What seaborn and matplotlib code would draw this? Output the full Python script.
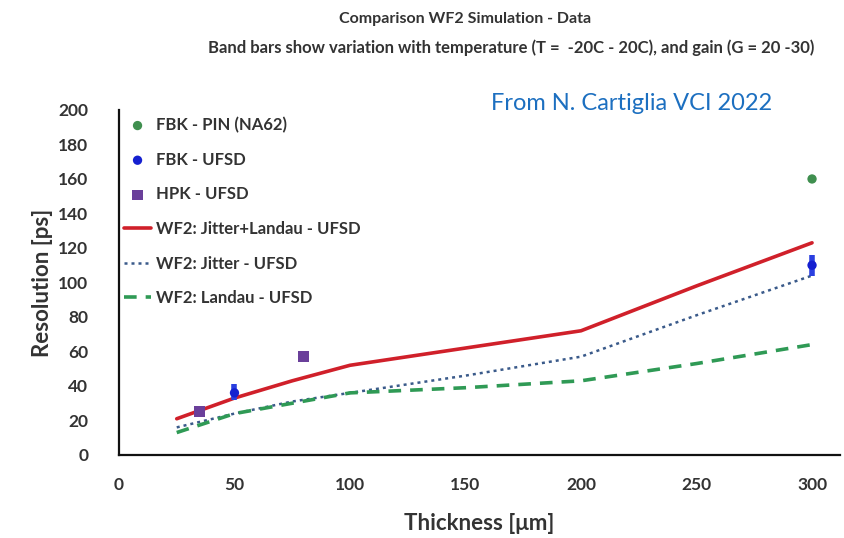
import numpy as np
import pandas as pd
import matplotlib
matplotlib.use("Agg")
import matplotlib.pyplot as plt
import seaborn as sns

# Simulated curves (thickness in um -> resolution in ps)
sim_thickness = [25, 50, 75, 100, 150, 200, 250, 300]
jitter_landau = [21, 33, 43, 52, 62, 72, 98, 123]
jitter_only = [16, 24, 31, 36, 46, 57, 81, 104]
landau_only = [13, 24, 30, 36, 39, 43, 53, 64]

# Measurements
pin_thickness = [300]
pin_resolution = [160]
fbk_thickness = [50, 300]
fbk_resolution = [36, 110]
fbk_low = [32, 104]
fbk_high = [41, 116]
hpk_thickness = [35, 80]
hpk_resolution = [25, 57]

x_ticks = [0, 50, 100, 150, 200, 250, 300]
y_ticks = [0, 20, 40, 60, 80, 100, 120, 140, 160, 180, 200]

sns.set_theme(style="white")
plt.rcParams["font.family"] = ["Lato", "DejaVu Sans"]

fig = plt.figure(figsize=(8.45, 5.38), dpi=100)
ax = fig.add_axes([0.1408, 0.1543, 0.853, 0.6413])

sim = pd.DataFrame({
    "Thickness": sim_thickness * 3,
    "Resolution": jitter_landau + jitter_only + landau_only,
    "Model": (["WF2: Jitter+Landau - UFSD"] * len(sim_thickness)
              + ["WF2: Jitter - UFSD"] * len(sim_thickness)
              + ["WF2: Landau - UFSD"] * len(sim_thickness)),
})

# Data points
sns.scatterplot(x=pin_thickness, y=pin_resolution, ax=ax, color="#3f8f4f",
                marker="o", s=45, edgecolor="none", label="FBK - PIN (NA62)", zorder=5)
ax.errorbar(fbk_thickness, fbk_resolution,
            yerr=[np.subtract(fbk_resolution, fbk_low), np.subtract(fbk_high, fbk_resolution)],
            fmt="none", ecolor="#2a3fe0", elinewidth=4, capsize=0, zorder=5)
sns.scatterplot(x=fbk_thickness, y=fbk_resolution, ax=ax, color="#1520d0",
                marker="o", s=45, edgecolor="none", label="FBK - UFSD", zorder=6)
sns.scatterplot(x=hpk_thickness, y=hpk_resolution, ax=ax, color="#6a3f9a",
                marker="s", s=60, edgecolor="none", label="HPK - UFSD", zorder=5)

# Simulation curves
styles = {
    "WF2: Jitter+Landau - UFSD": dict(color="#d0202a", ls="-", lw=2.6),
    "WF2: Jitter - UFSD": dict(color="#3a5a8a", ls=(0, (1.2, 1.6)), lw=1.8),
    "WF2: Landau - UFSD": dict(color="#2f9a55", ls=(0, (3.5, 2.5)), lw=2.6),
}
for name, st in styles.items():
    sub = sim[sim["Model"] == name]
    sns.lineplot(data=sub, x="Thickness", y="Resolution", ax=ax, label=name,
                 color=st["color"], linestyle=st["ls"], linewidth=st["lw"], zorder=3)

ax.set_xlim(0, 312)
ax.set_ylim(0, 200)
ax.set_xticks(x_ticks)
ax.set_yticks(y_ticks)
for side in ("top", "right"):
    ax.spines[side].set_visible(False)
for side in ("left", "bottom"):
    ax.spines[side].set_color("#111111")
    ax.spines[side].set_linewidth(1.6)
ax.tick_params(axis="both", direction="in", length=5, width=1.4, color="#111111",
               labelsize=12.5, labelcolor="#333333", pad=16)
ax.tick_params(axis="y", pad=22)
for lbl in ax.get_xticklabels() + ax.get_yticklabels():
    lbl.set_fontweight("bold")

ax.set_xlabel("Thickness [μm]", fontsize=16, fontweight="bold", color="#333333", labelpad=14)
ax.set_ylabel("Resolution [ps]", fontsize=16, fontweight="bold", color="#333333", labelpad=4)

leg = ax.legend(loc="upper left", bbox_to_anchor=(-0.002, 1.0), frameon=False,
                fontsize=12, handlelength=1.6, handletextpad=0.3, labelspacing=1.12,
                borderaxespad=0)
for t in leg.get_texts():
    t.set_fontweight("bold")
    t.set_color("#333333")

fig.text(0.55, 0.965, "Comparison WF2 Simulation - Data", ha="center", va="center",
         fontsize=11.5, fontweight="bold", color="#333333")
fig.text(0.605, 0.912, "Band bars show variation with temperature (T =  -20C - 20C), and gain (G = 20 -30)",
         ha="center", va="center", fontsize=12, fontweight="bold", color="#333333")
fig.text(0.748, 0.808, "From N. Cartiglia VCI 2022", ha="center", va="center",
         fontsize=17, color="#1c6fc0")

fig.savefig("out.png", dpi=100, facecolor="white")
